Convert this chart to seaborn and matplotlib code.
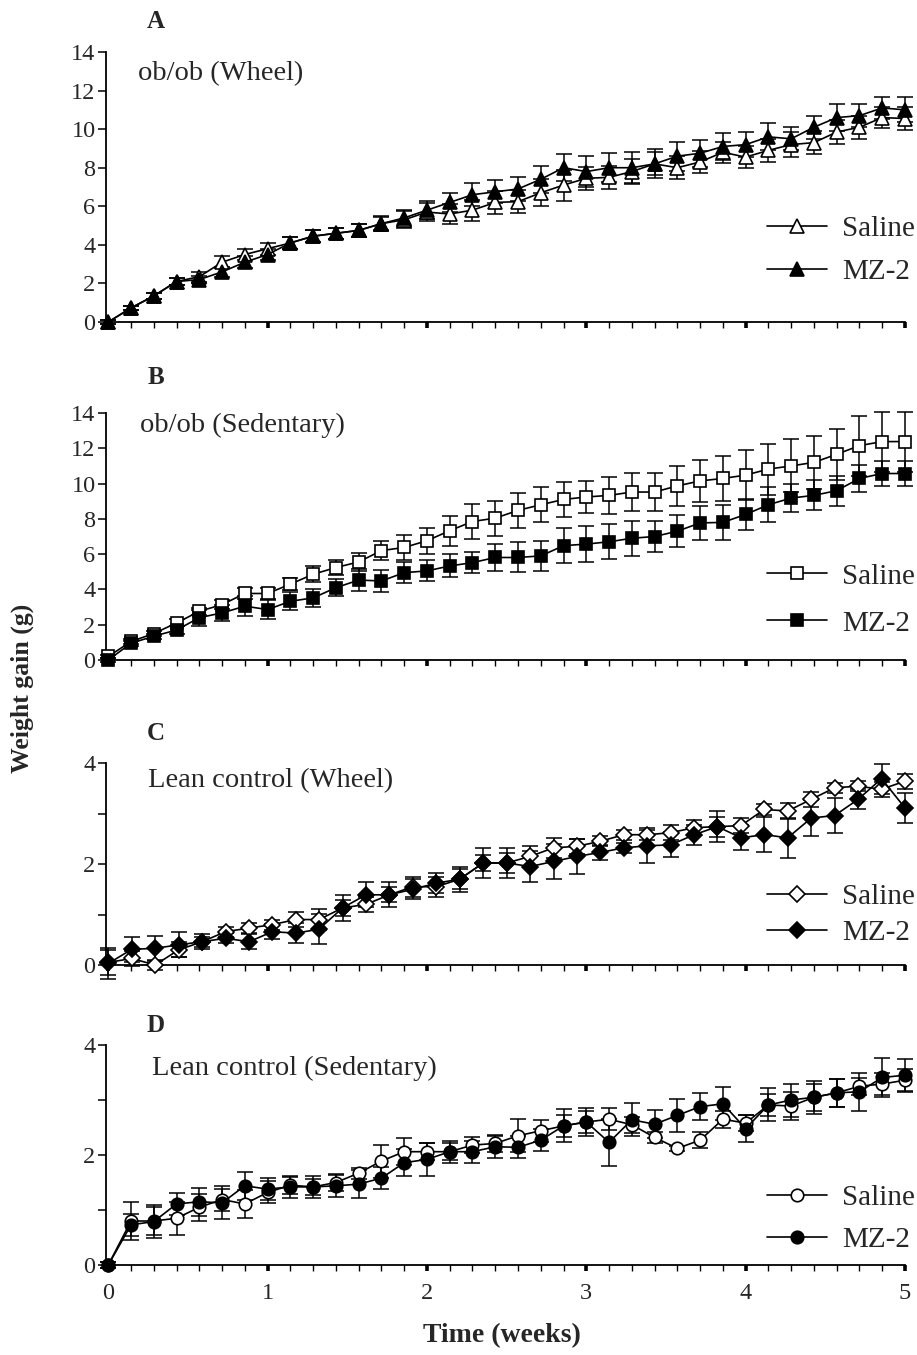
import numpy as np
import pandas as pd
import matplotlib
matplotlib.use("Agg")
import matplotlib.pyplot as plt
import seaborn as sns
from matplotlib.ticker import MultipleLocator, FixedLocator

# ---------------- data ----------------
days = list(range(36))  # days 0..35 (plotted in weeks via tick labels)
days_c = [0, 1.03, 2.06, 3.09, 4.12, 5.15, 6.18, 7.21, 8.24, 9.26, 10.29, 11.32,
          12.35, 13.38, 14.41, 15.44, 16.47, 17.5, 18.53, 19.56, 20.59, 21.62,
          22.65, 23.68, 24.71, 25.74, 26.76, 27.79, 28.82, 29.85, 30.88, 31.91,
          32.94, 33.97, 35.0]

saline_a = [0, 0.73, 1.35, 2.1, 2.35, 3.1, 3.5, 3.8, 4.1, 4.45, 4.6, 4.75, 5.1, 5.3,
            5.7, 5.6, 5.8, 6.2, 6.24, 6.7, 7.1, 7.45, 7.5, 7.8, 8.2, 8.0, 8.3, 8.8,
            8.55, 8.9, 9.2, 9.3, 9.85, 10.1, 10.6, 10.55]
mz2_a = [0, 0.73, 1.35, 2.1, 2.2, 2.6, 3.1, 3.5, 4.1, 4.45, 4.6, 4.75, 5.1, 5.4, 5.8,
         6.2, 6.6, 6.75, 6.9, 7.4, 8.0, 7.8, 8.0, 8.0, 8.2, 8.6, 8.75, 9.1, 9.2, 9.6,
         9.5, 10.1, 10.6, 10.7, 11.1, 11.0]
err_saline_a = [0.1, 0.1, 0.15, 0.2, 0.25, 0.3, 0.3, 0.3, 0.3, 0.3, 0.3, 0.35, 0.4,
                0.45, 0.45, 0.5, 0.55, 0.6, 0.6, 0.7, 0.8, 0.6, 0.6, 0.65, 0.6, 0.6,
                0.55, 0.55, 0.55, 0.6, 0.65, 0.6, 0.6, 0.6, 0.55, 0.6]
err_mz2_a = [0.1, 0.1, 0.15, 0.2, 0.2, 0.25, 0.3, 0.3, 0.3, 0.3, 0.3, 0.35, 0.35, 0.4,
             0.45, 0.5, 0.6, 0.6, 0.6, 0.7, 0.7, 0.8, 0.75, 0.8, 0.75, 0.75, 0.7, 0.7,
             0.65, 0.7, 0.6, 0.6, 0.7, 0.6, 0.55, 0.65]

saline_b = [0.2, 1.05, 1.5, 2.1, 2.76, 3.14, 3.77, 3.77, 4.3, 4.86, 5.24, 5.56, 6.2,
            6.38, 6.76, 7.33, 7.85, 8.04, 8.48, 8.8, 9.1, 9.24, 9.33, 9.52, 9.52,
            9.87, 10.15, 10.29, 10.48, 10.82, 11.0, 11.2, 11.66, 12.15, 12.38, 12.38]
mz2_b = [0, 0.95, 1.35, 1.7, 2.4, 2.67, 3.05, 2.86, 3.33, 3.52, 4.1, 4.53, 4.48, 4.95,
         5.05, 5.33, 5.52, 5.81, 5.81, 5.9, 6.48, 6.57, 6.7, 6.9, 7.0, 7.3, 7.77, 7.8,
         8.25, 8.8, 9.18, 9.33, 9.6, 10.29, 10.57, 10.57]
err_saline_b = [0.1, 0.15, 0.15, 0.2, 0.2, 0.25, 0.3, 0.3, 0.35, 0.45, 0.45, 0.5, 0.55,
                0.7, 0.75, 0.85, 1.0, 1.0, 1.0, 1.0, 1.0, 0.9, 1.05, 1.1, 1.1, 1.15,
                1.2, 1.27, 1.4, 1.45, 1.5, 1.5, 1.45, 1.7, 1.7, 1.7]
err_mz2_b = [0.1, 0.15, 0.15, 0.2, 0.45, 0.45, 0.55, 0.55, 0.5, 0.5, 0.5, 0.6, 0.6, 0.6,
             0.6, 0.65, 0.6, 0.75, 0.85, 0.85, 1.0, 1.0, 1.0, 1.0, 0.9, 0.9, 0.95, 1.0,
             0.9, 1.0, 0.8, 0.85, 0.85, 0.75, 0.7, 0.7]

saline_c = [0.05, 0.13, 0.0, 0.3, 0.46, 0.66, 0.73, 0.8, 0.9, 0.9, 1.13, 1.2, 1.39,
            1.55, 1.55, 1.7, 2.02, 2.02, 2.15, 2.32, 2.35, 2.45, 2.58, 2.58, 2.62,
            2.72, 2.74, 2.76, 3.08, 3.05, 3.28, 3.51, 3.54, 3.48, 3.64]
mz2_c = [0.03, 0.31, 0.33, 0.4, 0.46, 0.53, 0.46, 0.66, 0.63, 0.71, 1.13, 1.39, 1.39,
         1.5, 1.62, 1.7, 2.02, 2.02, 1.95, 2.05, 2.15, 2.23, 2.32, 2.36, 2.38, 2.58,
         2.74, 2.52, 2.58, 2.52, 2.91, 2.96, 3.28, 3.69, 3.11]
err_saline_c = [0.25, 0.15, 0.1, 0.15, 0.1, 0.1, 0.1, 0.1, 0.15, 0.2, 0.15, 0.15, 0.15,
                0.2, 0.2, 0.2, 0.15, 0.2, 0.2, 0.2, 0.15, 0.1, 0.1, 0.1, 0.15, 0.15,
                0.2, 0.15, 0.1, 0.15, 0.15, 0.1, 0.1, 0.15, 0.15]
err_mz2_c = [0.3, 0.25, 0.25, 0.25, 0.15, 0.1, 0.15, 0.15, 0.2, 0.3, 0.25, 0.25, 0.25,
             0.2, 0.2, 0.25, 0.3, 0.3, 0.3, 0.35, 0.35, 0.15, 0.1, 0.35, 0.25, 0.2,
             0.3, 0.25, 0.35, 0.4, 0.35, 0.35, 0.2, 0.3, 0.3]

saline_d = [0, 0.8, 0.8, 0.85, 1.05, 1.19, 1.11, 1.32, 1.45, 1.42, 1.5, 1.67, 1.89,
            2.06, 2.06, 2.06, 2.18, 2.21, 2.35, 2.44, 2.53, 2.6, 2.65, 2.55, 2.32,
            2.12, 2.27, 2.65, 2.58, 2.91, 2.89, 3.05, 3.13, 3.25, 3.29, 3.36]
mz2_d = [0, 0.73, 0.79, 1.11, 1.15, 1.13, 1.44, 1.38, 1.42, 1.42, 1.44, 1.47, 1.58,
         1.86, 1.92, 2.06, 2.06, 2.15, 2.14, 2.27, 2.53, 2.6, 2.23, 2.64, 2.56, 2.72,
         2.88, 2.93, 2.48, 2.91, 3.0, 3.05, 3.13, 3.15, 3.41, 3.45]
err_saline_d = [0.05, 0.35, 0.25, 0.3, 0.25, 0.2, 0.25, 0.2, 0.15, 0.15, 0.15, 0.1,
                0.3, 0.25, 0.15, 0.15, 0.15, 0.15, 0.3, 0.2, 0.2, 0.2, 0.2, 0.15, 0.1,
                0.05, 0.15, 0.15, 0.15, 0.2, 0.25, 0.25, 0.25, 0.15, 0.2, 0.2]
err_mz2_d = [0.05, 0.2, 0.3, 0.2, 0.25, 0.3, 0.25, 0.2, 0.2, 0.2, 0.2, 0.25, 0.2, 0.25,
             0.3, 0.2, 0.2, 0.2, 0.2, 0.2, 0.3, 0.25, 0.43, 0.3, 0.25, 0.3, 0.25, 0.3,
             0.25, 0.3, 0.3, 0.3, 0.25, 0.35, 0.35, 0.3]

panel_letters = ["A", "B", "C", "D"]
panel_titles = ["ob/ob (Wheel)", "ob/ob (Sedentary)", "Lean control (Wheel)",
                "Lean control (Sedentary)"]
series_labels = ["Saline", "MZ-2"]
week_labels = ["0", "1", "2", "3", "4", "5"]

# ---------------- style ----------------
sns.set_theme(style="ticks")
plt.rcParams["font.family"] = ["Liberation Serif", "DejaVu Serif"]

W, H = 917, 1355
fig = plt.figure(figsize=(W / 100, H / 100), dpi=100)
fig.patch.set_facecolor("white")


def px_axes(left, top, right, bottom):
    return fig.add_axes([left / W, 1 - bottom / H, (right - left) / W, (bottom - top) / H])


panels = [
    dict(box=(106, 52, 905, 322), x=days, s=saline_a, m=mz2_a, es=err_saline_a,
         em=err_mz2_a, marker="^", ms=9.5, ymax=14, ymajor=2, yminor=None,
         leg=(1.012, 0.137), lsp=0.57, letter=(156, 22), title=(138, 74)),
    dict(box=(106, 413, 905, 660), x=days, s=saline_b, m=mz2_b, es=err_saline_b,
         em=err_mz2_b, marker="s", ms=8, ymax=14, ymajor=2, yminor=None,
         leg=(1.012, 0.095), lsp=0.7, letter=(156, 378), title=(140, 425)),
    dict(box=(106, 763, 905, 965), x=days_c, s=saline_c, m=mz2_c, es=err_saline_c,
         em=err_mz2_c, marker="D", ms=8.5, ymax=4, ymajor=2, yminor=1,
         leg=(1.012, 0.095), lsp=0.33, letter=(156, 733), title=(148, 781)),
    dict(box=(106, 1045, 905, 1265), x=days, s=saline_d, m=mz2_d, es=err_saline_d,
         em=err_mz2_d, marker="o", ms=9, ymax=4, ymajor=2, yminor=1,
         leg=(1.012, 0.055), lsp=0.53, letter=(156, 1025), title=(152, 1068)),
]

lw = 1.2
for i, p in enumerate(panels):
    ax = px_axes(*p["box"])
    ax.set_facecolor("white")
    df = pd.DataFrame({"day": p["x"], "Saline": p["s"], "MZ-2": p["m"],
                       "es": p["es"], "em": p["em"]})
    # error bars
    for col, ecol in (("Saline", "es"), ("MZ-2", "em")):
        cont = ax.errorbar(df["day"], df[col], yerr=df[ecol], fmt="none",
                           ecolor="black", elinewidth=1.1, capsize=5.5,
                           capthick=1.1, zorder=2)
        for art in list(cont.lines[1]) + list(cont.lines[2]):
            art.set_clip_on(False)
    # lines + markers
    sns.lineplot(data=df, x="day", y="Saline", ax=ax, color="black", lw=lw,
                 marker=p["marker"], markersize=p["ms"], markerfacecolor="white",
                 markeredgecolor="black", markeredgewidth=1.2, errorbar=None,
                 sort=False, label=series_labels[0], clip_on=False, zorder=3)
    sns.lineplot(data=df, x="day", y="MZ-2", ax=ax, color="black", lw=lw,
                 marker=p["marker"], markersize=p["ms"], markerfacecolor="black",
                 markeredgecolor="black", markeredgewidth=1.2, errorbar=None,
                 sort=False, label=series_labels[1], clip_on=False, zorder=4)

    ax.set_xlim(-0.1, 35)
    ax.set_ylim(0, p["ymax"])
    ax.set_xlabel("")
    ax.set_ylabel("")
    ax.xaxis.set_major_locator(FixedLocator([0, 7, 14, 21, 28, 35]))
    ax.xaxis.set_minor_locator(MultipleLocator(1))
    ax.yaxis.set_major_locator(MultipleLocator(p["ymajor"]))
    if p["yminor"]:
        ax.yaxis.set_minor_locator(MultipleLocator(p["yminor"]))
    ax.tick_params(axis="x", which="major", direction="out", length=4, width=2.6,
                   color="black")
    ax.tick_params(axis="x", which="minor", direction="out", length=4, width=1.0,
                   color="black")
    ax.tick_params(axis="y", which="both", direction="out", length=6, width=1.1,
                   color="black", labelsize=17.5, pad=1.5)
    if i == 3:
        ax.set_xticklabels(week_labels)
        ax.tick_params(axis="x", labelsize=17.5, pad=9)
    else:
        ax.tick_params(axis="x", labelbottom=False)
    for sp in ("top", "right"):
        ax.spines[sp].set_visible(False)
    for sp in ("left", "bottom"):
        ax.spines[sp].set_color("black")
        ax.spines[sp].set_linewidth(1.3)

    ax.legend(loc="lower right", bbox_to_anchor=p["leg"], frameon=False,
              fontsize=21, handlelength=2.05, handletextpad=0.5,
              labelspacing=p["lsp"], borderaxespad=0.0, borderpad=0.0)

    lx, ly = p["letter"]
    fig.text(lx / W, 1 - ly / H, panel_letters[i], ha="center", va="center",
             fontsize=18, fontweight="bold")
    tx, ty = p["title"]
    fig.text(tx / W, 1 - ty / H, panel_titles[i], ha="left", va="center",
             fontsize=20.5)

fig.text(22 / W, 1 - 688 / H, "Weight gain (g)", rotation=90, ha="center",
         va="center", fontsize=18.5, fontweight="bold")
fig.text(502 / W, 1 - 1336 / H, "Time (weeks)", ha="center", va="center",
         fontsize=20, fontweight="bold")

fig.savefig("out.png", dpi=100, facecolor="white")
